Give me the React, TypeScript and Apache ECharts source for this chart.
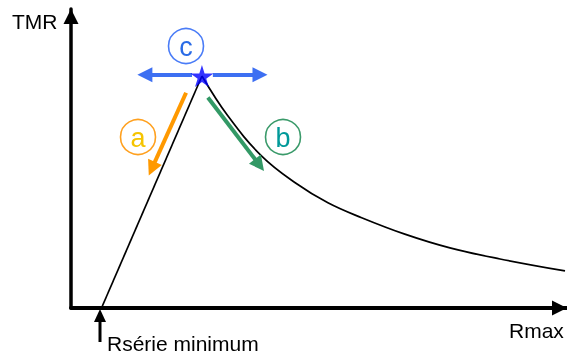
import React, { useEffect, useRef } from "react";
import * as echarts from "echarts";

// Schematic values (arbitrary units, x = Rmax, y = TMR)
const riseX = [6.15, 26.4];
const riseY = [0, 77.6];
const decayX = [26.4, 31.65, 38.45, 45.2, 51.8, 58.6, 67.3, 76.4, 86.5, 99.6];
const decayY = [77.6, 64.2, 50.8, 41.9, 35.2, 30.2, 24.7, 20.1, 16.4, 12.4];
const peak = [26.4, 77.6];

// Annotation arrows [x1, y1, x2, y2] in data units (tail -> arrowhead centre)
const arrowLeft = [24.4, 78.0, 14.9, 78.0];
const arrowRight = [28.6, 78.0, 38.1, 78.0];
const arrowA = [23.2, 72.0, 16.3, 46.6];
const arrowB = [27.6, 70.4, 38.0, 47.8];

const axisTitles = ["TMR", "Rmax", "Rsérie minimum"];
const circleLabels = ["a", "b", "c"];

const FONT = "'Liberation Sans', Arial, sans-serif";
const TRI = "path://M0,0 L7,14 L-7,14 Z";

export default function App() {
  const ref = useRef<HTMLDivElement>(null);
  useEffect(() => {
    if (!ref.current) return;
    const chart = echarts.init(ref.current, undefined, { renderer: "svg" });
    const toPairs = (xs: number[], ys: number[]) => xs.map((x, i) => [x, ys[i]]);
    const arrow = (a: number[], color: string) => ({
      coords: [
        [a[0], a[1]],
        [a[2], a[3]],
      ],
      lineStyle: { color, width: 4, opacity: 1 },
    });
    const circle = (cx: number, cy: number, stroke: string, label: string, color: string) => [
      {
        type: "circle",
        shape: { cx, cy, r: 17.5 },
        style: { fill: "#fff", stroke, lineWidth: 1.6 },
        z: 10,
      },
      {
        type: "text",
        x: cx,
        y: cy + 1,
        style: {
          text: label,
          fill: color,
          font: `27px ${FONT}`,
          align: "center",
          verticalAlign: "middle",
        },
        z: 11,
      },
    ];
    const axisLine = (w: number) => ({
      show: true,
      onZero: false,
      symbol: ["none", TRI],
      symbolSize: [15, 15],
      symbolOffset: [0, -7.5],
      lineStyle: { color: "#000", width: w },
    });
    chart.setOption({
      animation: false,
      grid: { left: 71, right: 0, top: 9, bottom: 46 },
      xAxis: {
        type: "value",
        min: 0,
        max: 100,
        axisLine: axisLine(4),
        axisTick: { show: false },
        axisLabel: { show: false },
        splitLine: { show: false },
      },
      yAxis: {
        type: "value",
        min: 0,
        max: 100,
        axisLine: axisLine(3.5),
        axisTick: { show: false },
        axisLabel: { show: false },
        splitLine: { show: false },
      },
      series: [
        {
          type: "line",
          data: toPairs(riseX, riseY),
          showSymbol: false,
          lineStyle: { color: "#000", width: 1.7 },
        },
        {
          type: "line",
          data: toPairs(decayX, decayY),
          showSymbol: false,
          smooth: 0.4,
          lineStyle: { color: "#000", width: 1.7 },
        },
        {
          type: "lines",
          coordinateSystem: "cartesian2d",
          symbol: ["none", "path://M0,0 L7,15 L-7,15 Z"],
          symbolSize: [14, 15],
          z: 5,
          data: [
            arrow(arrowLeft, "#3d6ff2"),
            arrow(arrowRight, "#3d6ff2"),
            arrow(arrowA, "#ff9900"),
            arrow(arrowB, "#339966"),
          ],
        },
        {
          type: "scatter",
          data: [peak],
          symbol:
            "path://M50,0 L61,35 L98,35 L68,57 L79,91 L50,70 L21,91 L32,57 L2,35 L39,35 Z",
          symbolSize: [23, 22],
          itemStyle: { color: "#0000ff" },
          z: 8,
        },
      ],
      graphic: [
        {
          type: "text",
          x: 12,
          y: 21,
          style: { text: axisTitles[0], fill: "#000", font: `21px ${FONT}`, verticalAlign: "middle" },
        },
        {
          type: "text",
          x: 509,
          y: 330,
          style: { text: axisTitles[1], fill: "#000", font: `21px ${FONT}`, verticalAlign: "middle" },
        },
        {
          type: "text",
          x: 107,
          y: 343,
          style: { text: axisTitles[2], fill: "#000", font: `21px ${FONT}`, verticalAlign: "middle" },
        },
        {
          type: "line",
          shape: { x1: 100, y1: 318, x2: 100, y2: 342 },
          style: { stroke: "#000", lineWidth: 3 },
        },
        {
          type: "polygon",
          shape: { points: [[100, 309], [94, 322], [106, 322]] },
          style: { fill: "#000" },
        },
        ...circle(138, 137, "#ffa01e", circleLabels[0], "#f5c400"),
        ...circle(283, 137, "#3a9a6a", circleLabels[1], "#009999"),
        ...circle(186, 46, "#4a7cf7", circleLabels[2], "#2a6be6"),
      ],
    });
    return () => chart.dispose();
  }, []);
  return (
    <div
      ref={ref}
      style={{ position: "fixed", left: 0, top: 0, width: 567, height: 354 }}
    />
  );
}
